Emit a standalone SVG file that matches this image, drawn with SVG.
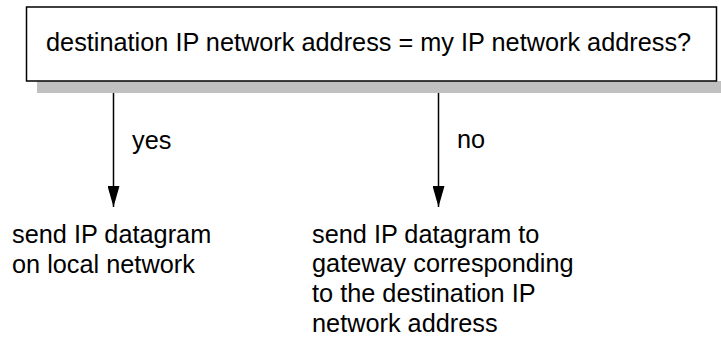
<svg xmlns="http://www.w3.org/2000/svg" width="721" height="337" viewBox="0 0 721 337">
<style>
text { font-family: "Liberation Sans", Arial, sans-serif; font-size: 25.3px; fill: #000; }
.conn { stroke: #000; stroke-width: 1.5; fill: none; }
</style>
<defs>
<marker id="arrow" markerUnits="userSpaceOnUse" markerWidth="21" markerHeight="12" refX="21" refY="6" orient="auto" viewBox="0 0 21 12">
<path d="M0,0 L21,6 L0,12 Z" fill="#000"/>
</marker>
</defs>
<rect width="721" height="337" fill="#fff"/>
<g id="decision">
<rect x="37" y="81" width="684" height="12" fill="#c0c0c0"/>
<rect x="26.5" y="7" width="690" height="74" fill="#fff" stroke="#000" stroke-width="1.5"/>
<text x="46" y="51">destination IP network address = my IP network address?</text>
</g>
<g id="connectors">
<line class="conn" x1="113.5" y1="93" x2="113.5" y2="207" marker-end="url(#arrow)"/>
<line class="conn" x1="438.5" y1="93" x2="438.5" y2="207" marker-end="url(#arrow)"/>
<text x="132" y="149">yes</text>
<text x="457" y="148">no</text>
</g>
<g id="local">
<text x="12" y="243">send IP datagram</text>
<text x="12" y="273">on local network</text>
</g>
<g id="gateway">
<text x="312" y="243">send IP datagram to</text>
<text x="312" y="272">gateway corresponding</text>
<text x="312" y="302">to the destination IP</text>
<text x="312" y="332">network address</text>
</g>
</svg>
